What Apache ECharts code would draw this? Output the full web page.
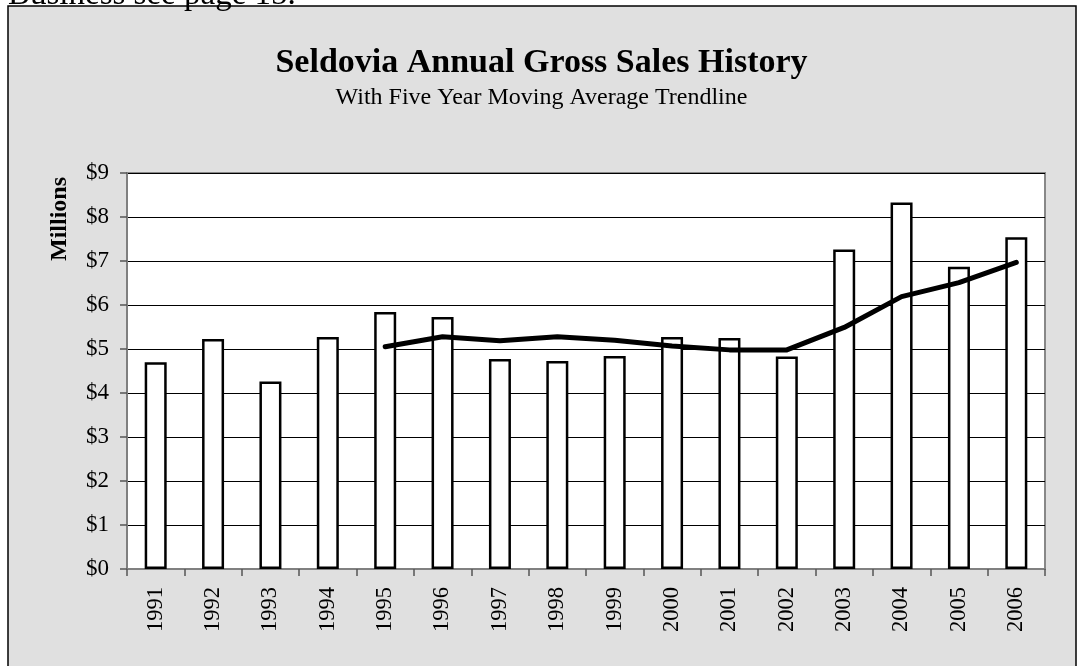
<!DOCTYPE html>
<html>
<head>
<meta charset="utf-8">
<script src="https://cdn.jsdelivr.net/npm/echarts@6/dist/echarts.min.js"></script>
<style>
  html, body { margin: 0; padding: 0; background: #fff; }
  #main { width: 1083px; height: 666px; }
</style>
</head>
<body>
<div id="main"></div>
<script>
const years = ['1991', '1992', '1993', '1994', '1995', '1996', '1997', '1998',
               '1999', '2000', '2001', '2002', '2003', '2004', '2005', '2006'];
// annual gross sales, millions of dollars
const sales = [4.70, 5.23, 4.26, 5.27, 5.84, 5.73, 4.77, 4.73,
               4.84, 5.27, 5.25, 4.83, 7.26, 8.33, 6.87, 7.54];
// five year moving average (starts in 1995)
const movingAvg = [null, null, null, null, 5.05, 5.28, 5.19, 5.28,
                   5.20, 5.07, 4.98, 4.98, 5.49, 6.19, 6.51, 6.97];
const yTicks = [0, 1, 2, 3, 4, 5, 6, 7, 8, 9];

const FONT = "'Liberation Serif', 'Times New Roman', serif";

const option = {
    animation: false,
    backgroundColor: '#fff',
    textStyle: { fontFamily: FONT },
    graphic: [
        {
            type: 'rect',
            shape: { x: 8, y: 6, width: 1068, height: 680 },
            style: { fill: '#e0e0e0', stroke: '#000', lineWidth: 1.5 },
            z: -10
        },
        {
            type: 'text',
            x: 8, y: 12,
            style: {
                text: 'Business see page 15.',
                font: '33px ' + FONT,
                fill: '#000',
                verticalAlign: 'bottom'
            }
        },
        {
            type: 'text',
            x: 60, y: 219,
            rotation: Math.PI / 2,
            style: {
                text: 'Millions',
                font: 'bold 24px ' + FONT,
                fill: '#000',
                align: 'center',
                verticalAlign: 'middle'
            }
        }
    ],
    title: {
        text: 'Seldovia Annual Gross Sales History',
        subtext: 'With Five Year Moving Average Trendline',
        left: 'center',
        top: 41,
        itemGap: 6,
        textStyle: { fontFamily: FONT, fontSize: 34, fontWeight: 'bold', color: '#000' },
        subtextStyle: { fontFamily: FONT, fontSize: 24, color: '#000' }
    },
    grid: {
        left: 127, right: 38, top: 173, bottom: 97,
        show: true,
        backgroundColor: '#fff',
        borderColor: '#888',
        borderWidth: 2
    },
    xAxis: {
        type: 'category',
        data: years,
        boundaryGap: true,
        axisLine: { lineStyle: { color: '#808080', width: 2 } },
        axisTick: { show: true, length: 7, lineStyle: { color: '#555', width: 1.5 } },
        axisLabel: {
            rotate: 90,
            margin: 18,
            fontSize: 22.5,
            fontFamily: FONT,
            color: '#000'
        }
    },
    yAxis: {
        type: 'value',
        min: yTicks[0],
        max: yTicks[yTicks.length - 1],
        interval: 1,
        axisLine: { show: true, lineStyle: { color: '#808080', width: 2 } },
        axisTick: { show: true, length: 7, lineStyle: { color: '#555', width: 1.5 } },
        axisLabel: {
            margin: 18,
            fontSize: 23,
            fontFamily: FONT,
            color: '#000',
            formatter: v => '$' + v
        },
        splitLine: { lineStyle: { color: '#000', width: 1 } }
    },
    series: [
        {
            type: 'bar',
            data: sales,
            barWidth: 22,
            itemStyle: { color: '#fff', borderColor: '#000', borderWidth: 2.5 }
        },
        {
            type: 'line',
            data: movingAvg,
            symbol: 'none',
            z: 5,
            lineStyle: { color: '#000', width: 5, cap: 'round', join: 'round' }
        }
    ]
};

const chart = echarts.init(document.getElementById('main'));
chart.setOption(option);
</script>
</body>
</html>
